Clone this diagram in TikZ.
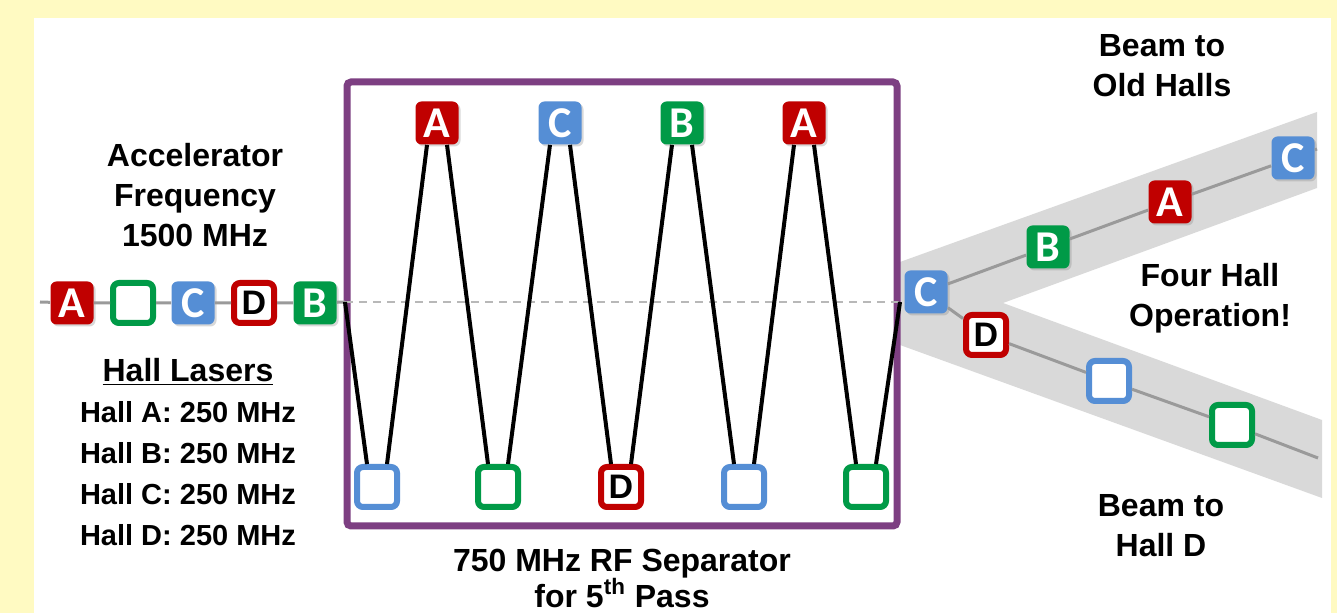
\documentclass[tikz,border=0pt]{standalone}
\usepackage{fontspec}
\setmainfont{Liberation Sans}
\newfontfamily\boxfont{Carlito}
\usetikzlibrary{shadows}
\definecolor{hallred}{HTML}{C00000}
\definecolor{hallblue}{HTML}{558ED5}
\definecolor{hallgreen}{HTML}{009A47}
\definecolor{seppurple}{HTML}{7D3F82}
\definecolor{bgyellow}{HTML}{FFFAC2}
\definecolor{bandgray}{HTML}{D9D9D9}
\definecolor{beamgray}{HTML}{9A9A9A}

\begin{document}
\begin{tikzpicture}[x=0.5pt,y=-0.5pt,
  lbl/.style={font=\bfseries\fontsize{16}{20}\selectfont,align=center},
  hall/.style={font=\bfseries\fontsize{14.5}{20.5}\selectfont,align=left},
  bunch/.style={rounded corners=3pt,inner sep=0pt,
    drop shadow={opacity=0.3,shadow xshift=1pt,shadow yshift=-1pt}},
  fullbox/.style={bunch,minimum size=21.5pt,fill=#1,text=white,
    font=\boxfont\bfseries\fontsize{22}{22}\selectfont},
  openbox/.style={bunch,minimum size=20pt,draw=#1,line width=3pt,fill=white,
    font=\bfseries\fontsize{17}{17}\selectfont},
  wave/.style={line width=2pt,black},
  beam/.style={beamgray,line width=1.5pt}]
  \useasboundingbox (0,0) rectangle (1337,613);
  % Hintergrund
  \fill[bgyellow] (0,0) rectangle (1337,613);
  \fill[white] (34,18) rectangle (1331,613);
  % Strahlbaender rechts
  \fill[bandgray] (900,262) -- (1317,112) -- (1317,188) -- (1003,303)
    -- (1322,420) -- (1322,498) -- (900,345) -- cycle;

  % Separator
  \node[draw=seppurple,line width=3.5pt,rounded corners=2pt,
    minimum width=275pt,minimum height=222pt] (sep) at (622,304) {};
  \coordinate (sepin) at (345,302);
  \coordinate (sepout) at (900,302);
  \draw[beamgray!70,line width=1pt,dash pattern=on 4pt off 3pt] (sepin) -- (sepout);

  % Bunche vor dem Separator
  \node[fullbox=hallred] (inA) at (72,303) {A};
  \node[openbox=hallgreen] (inG) at (133,303) {};
  \node[fullbox=hallblue] (inC) at (193,303) {C};
  \node[openbox=hallred] (inD) at (254,303) {D};
  \node[fullbox=hallgreen] (inB) at (315,303) {B};
  \coordinate (beamstart) at (40,302);
  \draw[beam] (beamstart) -- (inA) -- (inG) -- (inC) -- (inD) -- (inB) -- (sepin);

  % Bunche im Separator
  \node[fullbox=hallred] (topA1) at (437,123) {A};
  \node[fullbox=hallblue] (topC) at (560,123) {C};
  \node[fullbox=hallgreen] (topB) at (682,123) {B};
  \node[fullbox=hallred] (topA2) at (804,123) {A};
  \node[openbox=hallblue] (botC1) at (377,487) {};
  \node[openbox=hallgreen] (botG1) at (498,487) {};
  \node[openbox=hallred] (botD) at (621,487) {D};
  \node[openbox=hallblue] (botC2) at (744,487) {};
  \node[openbox=hallgreen] (botG2) at (866,487) {};
  \draw[wave] (sepin) -- ([xshift=-5pt]botC1.north)
    ([xshift=5pt]botC1.north) -- ([xshift=-5pt]topA1.south)
    ([xshift=5pt]topA1.south) -- ([xshift=-5pt]botG1.north)
    ([xshift=5pt]botG1.north) -- ([xshift=-5pt]topC.south)
    ([xshift=5pt]topC.south) -- ([xshift=-5pt]botD.north)
    ([xshift=5pt]botD.north) -- ([xshift=-5pt]topB.south)
    ([xshift=5pt]topB.south) -- ([xshift=-5pt]botC2.north)
    ([xshift=5pt]botC2.north) -- ([xshift=-5pt]topA2.south)
    ([xshift=5pt]topA2.south) -- ([xshift=-5pt]botG2.north)
    ([xshift=5pt]botG2.north) -- (sepout);

  % Bunche nach dem Separator
  \node[fullbox=hallblue] (outC) at (926,292) {C};
  \node[fullbox=hallgreen] (upB) at (1048,247) {B};
  \node[fullbox=hallred] (upA) at (1170,202) {A};
  \node[fullbox=hallblue] (upC) at (1293,158) {C};
  \node[openbox=hallred] (loD) at (986,335) {D};
  \node[openbox=hallblue] (loC) at (1109,381) {};
  \node[openbox=hallgreen] (loG) at (1232,425) {};
  \coordinate (upend) at (1317,149);
  \coordinate (loend) at (1318,458);
  \draw[beam] (outC) -- (upB) -- (upA) -- (upC) -- (upend);
  \draw[beam] (outC) -- (loD) -- (loC) -- (loG) -- (loend);

  % Texte
  \node[lbl] (accel) at (195,195) {Accelerator\\Frequency\\1500 MHz};
  \node[lbl] (lasers) at (188,372) {\underline{Hall Lasers}};
  \node[hall] (rates) at (188,474) {Hall A: 250 MHz\\Hall B: 250 MHz\\Hall C: 250 MHz\\Hall D: 250 MHz};
  \node[lbl,font=\bfseries\fontsize{16}{18}\selectfont] (septxt) at (622,578)
    {750 MHz RF Separator\\for 5\textsuperscript{th} Pass};
  \node[lbl] (oldhalls) at (1162,66) {Beam to\\Old Halls};
  \node[lbl] (fourhall) at (1210,298) {Four Hall\\Operation!};
  \node[lbl] (halld) at (1161,526) {Beam to\\Hall D};
\end{tikzpicture}
\end{document}
